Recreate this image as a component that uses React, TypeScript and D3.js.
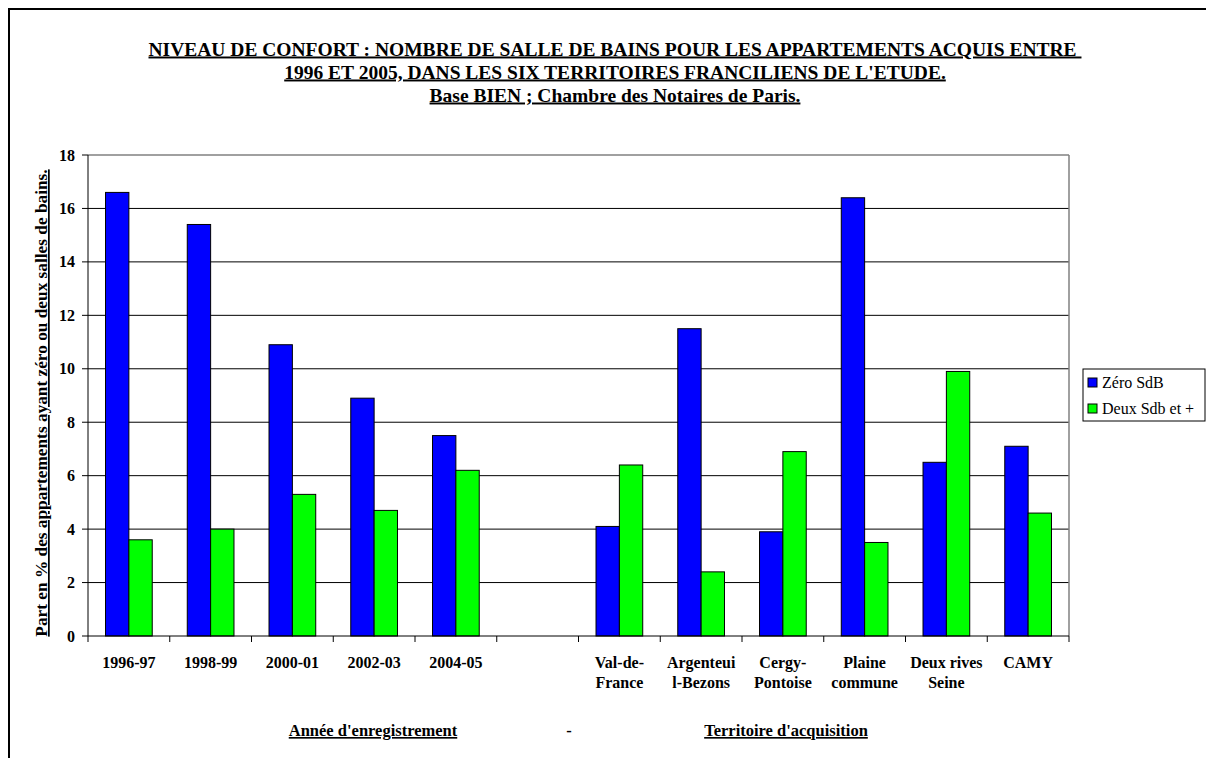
import React from "react";
import * as d3 from "d3";

const categories = ["1996-97", "1998-99", "2000-01", "2002-03", "2004-05", "gap", "Val-de-France", "Argenteuil-Bezons", "Cergy-Pontoise", "Plaine commune", "Deux rives Seine", "CAMY"];
const categoryLabels = [["1996-97"], ["1998-99"], ["2000-01"], ["2002-03"], ["2004-05"], [], ["Val-de-", "France"], ["Argenteui", "l-Bezons"], ["Cergy-", "Pontoise"], ["Plaine", "commune"], ["Deux rives", "Seine"], ["CAMY"]];
const zeroSdB = [16.6, 15.4, 10.9, 8.9, 7.5, null, 4.1, 11.5, 3.9, 16.4, 6.5, 7.1];
const deuxSdB = [3.6, 4.0, 5.3, 4.7, 6.2, null, 6.4, 2.4, 6.9, 3.5, 9.9, 4.6];
const seriesNames = ["Zéro SdB", "Deux Sdb et +"];
const seriesColors = ["#0000FF", "#00FF00"];
const yTicks = [0, 2, 4, 6, 8, 10, 12, 14, 16, 18];
const titleLines = [
  "NIVEAU DE CONFORT : NOMBRE DE SALLE DE BAINS POUR LES APPARTEMENTS ACQUIS ENTRE ",
  "1996 ET 2005, DANS LES SIX TERRITOIRES FRANCILIENS DE L'ETUDE.",
  "Base BIEN ; Chambre des Notaires de Paris.",
];
const yTitle = "Part en % des appartements ayant zéro ou deux salles de bains.";
const bottomLabels = ["Année d'enregistrement", "-", "Territoire d'acquisition"];

const FONT = "Liberation Serif, DejaVu Serif, serif";

export default function App() {
  const W = 1206, H = 758;
  const left = 88, right = 1069, top = 155, bottom = 636;
  const x = d3.scaleBand<string>().domain(categories).range([left, right]).padding(0);
  const y = d3.scaleLinear().domain([0, 18]).range([bottom, top]);
  const step = x.bandwidth();
  const barW = step / 3.5;
  const inner = d3.scaleBand<number>().domain([0, 1]).range([(step - 2 * barW) / 2, (step + 2 * barW) / 2]).padding(0);
  const series = [zeroSdB, deuxSdB];
  const ul = { textDecoration: "underline" };

  return (
    <svg width={W} height={H} style={{ position: "absolute", left: 0, top: 0 }}>
      <rect x={0} y={0} width={W} height={H} fill="#fff" />
      <rect x={9} y={9} width={1210} height={770} fill="none" stroke="#000" strokeWidth={2} />
      {titleLines.map((t, i) => (
        <text key={i} x={615} y={55.5 + i * 23} textAnchor="middle" fontFamily={FONT} fontSize={19.5} fontWeight="bold" style={ul} xmlSpace="preserve">{t}</text>
      ))}
      {yTicks.filter((t) => t > 0 && t < 18).map((t) => (
        <line key={t} x1={left} x2={right} y1={y(t)} y2={y(t)} stroke="#000" strokeWidth={1} />
      ))}
      <line x1={left} x2={right} y1={y(18)} y2={y(18)} stroke="#808080" strokeWidth={1.5} />
      <line x1={right} x2={right} y1={y(18)} y2={bottom} stroke="#808080" strokeWidth={1.5} />
      {categories.map((c, i) => (
        <g key={c} transform={`translate(${x(c)},0)`}>
          {series.map((s, j) => {
            const v = s[i];
            if (v == null) return null;
            return (
              <rect key={j} x={inner(j)} y={y(v)} width={inner.bandwidth()} height={bottom - y(v)} fill={seriesColors[j]} stroke="#000" strokeWidth={1} />
            );
          })}
        </g>
      ))}
      <line x1={left} x2={left} y1={top} y2={bottom} stroke="#000" strokeWidth={1} />
      {yTicks.map((t) => (
        <g key={t}>
          <line x1={left - 6} x2={left} y1={y(t)} y2={y(t)} stroke="#000" />
          <text x={75} y={y(t) + 5.5} textAnchor="end" fontFamily={FONT} fontSize={16} fontWeight="bold">{t}</text>
        </g>
      ))}
      <line x1={left} x2={right} y1={bottom} y2={bottom} stroke="#000" strokeWidth={1} />
      {[...categories.map((c) => x(c) as number), right].map((px, i) => (
        <line key={i} x1={px} x2={px} y1={bottom} y2={bottom + 6} stroke="#000" />
      ))}
      {categories.map((c, i) => (
        <text key={c} textAnchor="middle" fontFamily={FONT} fontSize={16} fontWeight="bold">
          {categoryLabels[i].map((l, k) => (
            <tspan key={k} x={(x(c) as number) + step / 2} y={667.5 + k * 20.5}>{l}</tspan>
          ))}
        </text>
      ))}
      <text transform={`translate(47,403) rotate(-90)`} textAnchor="middle" fontFamily={FONT} fontSize={17.3} fontWeight="bold" style={ul}>{yTitle}</text>
      <text x={373} y={736} textAnchor="middle" fontFamily={FONT} fontSize={16.5} fontWeight="bold" style={ul}>{bottomLabels[0]}</text>
      <text x={569} y={736} textAnchor="middle" fontFamily={FONT} fontSize={16.5} fontWeight="bold">{bottomLabels[1]}</text>
      <text x={786} y={736} textAnchor="middle" fontFamily={FONT} fontSize={16.5} fontWeight="bold" style={ul}>{bottomLabels[2]}</text>
      <rect x={1083} y={369} width={122} height={52} fill="#fff" stroke="#000" strokeWidth={1} />
      {seriesNames.map((n, i) => (
        <g key={n}>
          <rect x={1088} y={378 + i * 26} width={9} height={9} fill={seriesColors[i]} stroke="#000" strokeWidth={1} />
          <text x={1102} y={388 + i * 26} fontFamily={FONT} fontSize={16}>{n}</text>
        </g>
      ))}
    </svg>
  );
}
